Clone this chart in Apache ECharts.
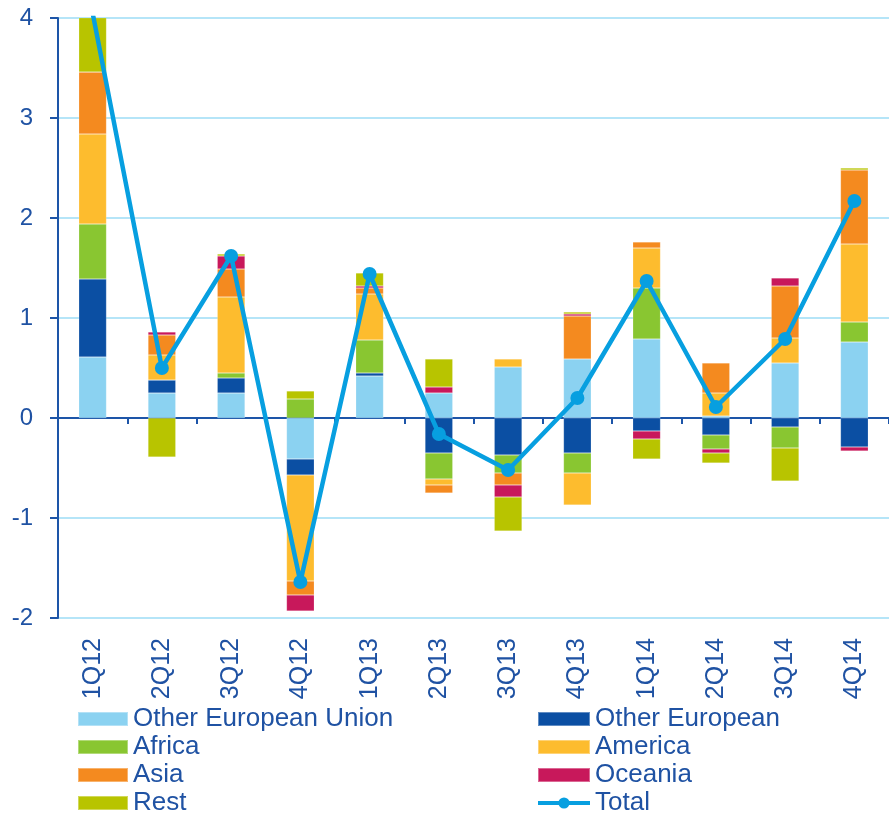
<!DOCTYPE html>
<html>
<head>
<meta charset="utf-8">
<script src="https://cdn.jsdelivr.net/npm/echarts@6/dist/echarts.min.js"></script>
<style>
html,body{margin:0;padding:0;background:#fff;}
#chart{width:889px;height:814px;}
</style>
</head>
<body>
<div id="chart"></div>
<script>
var categories = ['1Q12','2Q12','3Q12','4Q12','1Q13','2Q13','3Q13','4Q13','1Q14','2Q14','3Q14','4Q14'];
var otherEU      = [0.61, 0.25, 0.25, -0.41, 0.42, 0.25, 0.51, 0.59, 0.79, 0.02, 0.55, 0.76];
var otherEurope  = [0.78, 0.13, 0.15, -0.16, 0.03, -0.35, -0.37, -0.35, -0.13, -0.17, -0.09, -0.29];
var africa       = [0.55, 0, 0.05, 0.19, 0.33, -0.26, -0.18, -0.20, 0.51, -0.14, -0.21, 0.20];
var america      = [0.90, 0.25, 0.76, -1.06, 0.46, -0.06, 0.08, -0.32, 0.40, 0.23, 0.25, 0.78];
var asia         = [0.62, 0.20, 0.28, -0.14, 0.06, -0.08, -0.12, 0.43, 0.06, 0.30, 0.52, 0.74];
var oceania      = [0, 0.03, 0.13, -0.16, 0.02, 0.06, -0.12, 0.02, -0.08, -0.04, 0.08, -0.04];
var rest         = [0.56, -0.39, 0.02, 0.08, 0.13, 0.28, -0.34, 0.02, -0.20, -0.10, -0.33, 0.02];
var total        = [4.05, 0.50, 1.62, -1.64, 1.44, -0.16, -0.52, 0.20, 1.37, 0.11, 0.79, 2.17];
var yTicks = { min: -2, max: 4, interval: 1 };

var txt = '#1f52a3';
var font = 'Liberation Sans, Arial, sans-serif';

function bar(name, data, color) {
  return {
    name: name, type: 'bar', stack: 'all', data: data,
    barWidth: '40%', xAxisIndex: 0,
    itemStyle: { color: color, borderColor: 'rgba(255,255,255,0.35)', borderWidth: 0.5 },
    emphasis: { disabled: true }
  };
}

var legendText = { color: txt, fontSize: 26, fontFamily: font, lineHeight: 24 };

var chart = echarts.init(document.getElementById('chart'), null, { renderer: 'canvas' });
chart.setOption({
  animation: false,
  backgroundColor: '#ffffff',
  grid: { left: 58, top: 18, right: -9, bottom: 196, containLabel: false },
  xAxis: [
    {
      type: 'category', data: categories, position: 'bottom',
      axisLine: { show: false, onZero: false },
      axisTick: { show: false },
      axisLabel: { rotate: 90, margin: 20, color: txt, fontSize: 25, fontFamily: font },
      splitLine: { show: false }
    },
    {
      type: 'category', data: categories, position: 'bottom',
      axisLine: { show: true, onZero: true, lineStyle: { color: '#1d55a8', width: 2 } },
      axisTick: { show: true, length: 6, lineStyle: { color: '#1d55a8', width: 2 } },
      axisLabel: { show: false },
      splitLine: { show: false }
    }
  ],
  yAxis: {
    type: 'value', min: yTicks.min, max: yTicks.max, interval: yTicks.interval,
    axisLine: { show: true, lineStyle: { color: '#1d55a8', width: 2 } },
    axisTick: { show: true, length: 8, lineStyle: { color: '#1d55a8', width: 2 } },
    axisLabel: { color: txt, fontSize: 24, fontFamily: font, margin: 25 },
    splitLine: { show: true, lineStyle: { color: '#b5e5f8', width: 2 } }
  },
  legend: [
    {
      left: 72, top: 701, height: 140, orient: 'vertical', itemWidth: 50, itemHeight: 14, itemGap: 2,
      textStyle: legendText,
      data: [
        { name: 'Other European Union', icon: 'rect' },
        { name: 'Africa', icon: 'rect' },
        { name: 'Asia', icon: 'rect' },
        { name: 'Rest', icon: 'rect' }
      ]
    },
    {
      left: 531, top: 701, height: 140, orient: 'vertical', itemWidth: 52, itemHeight: 14, itemGap: 2,
      textStyle: legendText,
      lineStyle: { width: 4 },
      data: [
        { name: 'Other European', icon: 'rect' },
        { name: 'America', icon: 'rect' },
        { name: 'Oceania', icon: 'rect' },
        { name: 'Total' }
      ]
    }
  ],
  series: [
    bar('Other European Union', otherEU, '#8bd2f1'),
    bar('Other European', otherEurope, '#0b4fa3'),
    bar('Africa', africa, '#89c631'),
    bar('America', america, '#fdbc2e'),
    bar('Asia', asia, '#f48a1f'),
    bar('Oceania', oceania, '#c8185b'),
    bar('Rest', rest, '#b8c400'),
    {
      name: 'Total', type: 'line', data: total, xAxisIndex: 0,
      symbol: 'circle', symbolSize: 14, clip: true,
      lineStyle: { color: '#079fe0', width: 4.5 },
      itemStyle: { color: '#079fe0' },
      z: 5
    }
  ]
});
</script>
</body>
</html>
